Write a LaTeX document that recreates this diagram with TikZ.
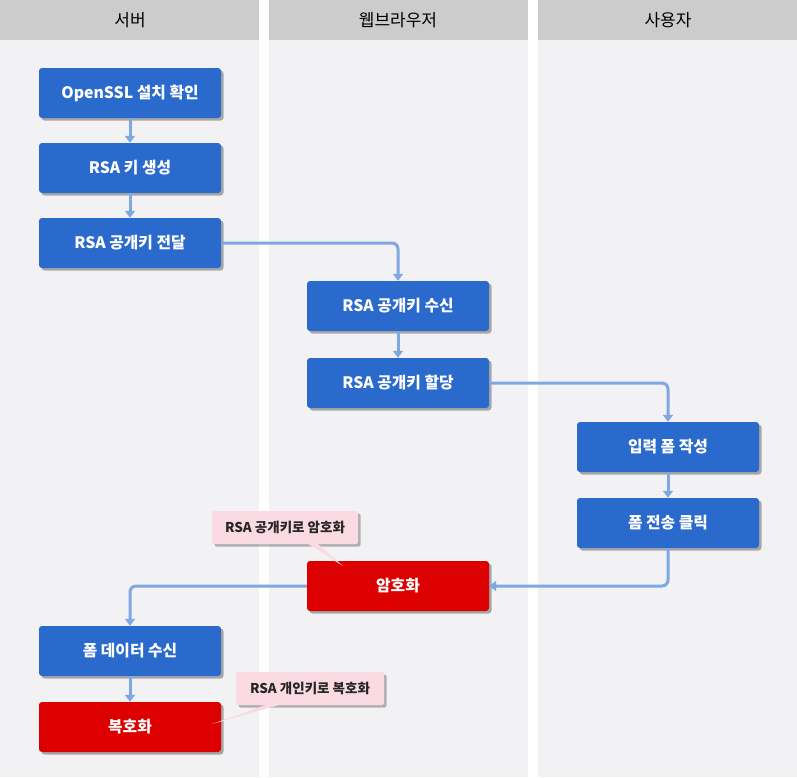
\documentclass[tikz,border=0pt]{standalone}
\usepackage{fontspec}
\setmainfont{Noto Sans CJK KR}
\usetikzlibrary{shadows,arrows.meta,calc}
\definecolor{lanebg}{HTML}{F2F2F4}
\definecolor{headbg}{HTML}{CCCCCC}
\definecolor{boxblue}{HTML}{2A6ACD}
\definecolor{boxred}{HTML}{DD0000}
\definecolor{linkblue}{HTML}{7FA8E2}
\definecolor{notepink}{HTML}{FADBE4}
\tikzset{
  stepbox/.style={minimum width=182pt, minimum height=50pt, rounded corners=3pt,
    fill=boxblue, text=white, font=\fontsize{15.8}{17}\selectfont\bfseries, inner sep=0pt,
    drop shadow={opacity=0.45, shadow xshift=2.5pt, shadow yshift=-2.5pt, fill=black!70}},
  redbox/.style={stepbox, fill=boxred},
  lanehead/.style={font=\fontsize{17}{19}\selectfont, text=black},
  link/.style={draw=linkblue, line width=3pt, rounded corners=6pt,
    -{Triangle[length=7pt,width=10pt]}},
  note/.style={fill=notepink, rounded corners=2pt, minimum height=33pt, inner xsep=5pt,
    font=\fontsize{13.5}{15}\selectfont\bfseries, text=black!85,
    drop shadow={opacity=0.4, shadow xshift=2.5pt, shadow yshift=-2.5pt, fill=black!70}},
}
\begin{document}
\begin{tikzpicture}[x=1pt,y=-1pt]
\useasboundingbox (0,0) rectangle (797,777);
\fill[white] (0,0) rectangle (797,777);
% lanes
\fill[lanebg] (0,0) rectangle (259,777);
\fill[lanebg] (269,0) rectangle (528,777);
\fill[lanebg] (538,0) rectangle (797,777);
\fill[headbg] (0,0) rectangle (259,40);
\fill[headbg] (269,0) rectangle (528,40);
\fill[headbg] (538,0) rectangle (797,40);
\node[lanehead] (h1) at (130,20) {서버};
\node[lanehead] (h2) at (398,20) {웹브라우저};
\node[lanehead] (h3) at (668,20) {사용자};
% boxes
\node[stepbox] (n1) at (130,93) {OpenSSL 설치 확인};
\node[stepbox] (n2) at (130,168) {RSA 키 생성};
\node[stepbox] (n3) at (130,243) {RSA 공개키 전달};
\node[stepbox] (n4) at (398,306) {RSA 공개키 수신};
\node[stepbox] (n5) at (398,383) {RSA 공개키 할당};
\node[stepbox] (n6) at (668,447) {입력 폼 작성};
\node[stepbox] (n7) at (668,523) {폼 전송 클릭};
\node[redbox] (n8) at (398,586) {암호화};
\node[stepbox] (n9) at (130,651) {폼 데이터 수신};
\node[redbox] (n10) at (130,727) {복호화};
% links
\draw[link] (n1) -- (n2);
\draw[link] (n2) -- (n3);
\draw[link] (n3.east) -| (n4.north);
\draw[link] (n4) -- (n5);
\draw[link] (n5.east) -| (n6.north);
\draw[link] (n6) -- (n7);
\draw[link] (n7.south) |- (n8.east);
\draw[link] (n8.west) -| (n9.north);
\draw[link] (n9) -- (n10);
% notes
\node[note, minimum width=146pt] (c1) at (285,527.5) {RSA 공개키로 암호화};
\coordinate (t1) at (343,566);
\fill[notepink] ($(c1.south)+(22,-1)$) -- ($(c1.south)+(32,-1)$) -- (t1) -- cycle;
\node[note, minimum width=148pt] (c2) at (310,688.5) {RSA 개인키로 복호화};
\coordinate (t2) at (212,724);
\fill[notepink] ($(c2.south)+(-42,-1)$) -- ($(c2.south)+(-28,-1)$) -- (t2) -- cycle;
\end{tikzpicture}
\end{document}
